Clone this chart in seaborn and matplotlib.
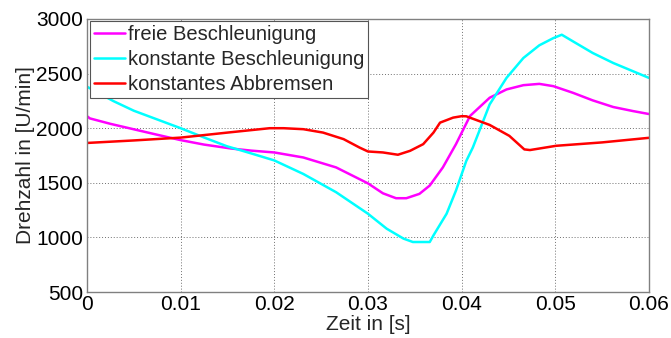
import numpy as np
import pandas as pd
import matplotlib
matplotlib.use("Agg")
import matplotlib.pyplot as plt
import seaborn as sns

# Drehzahlverläufe für drei Fahrmanöver
t_frei = [0.0, 0.0003, 0.0025, 0.005, 0.0075, 0.01, 0.0125, 0.0154, 0.0175, 0.02,
          0.0231, 0.0266, 0.030, 0.0316, 0.033, 0.0341, 0.0355, 0.0366, 0.038,
          0.0394, 0.0409, 0.043, 0.0448, 0.0466, 0.0483, 0.0498, 0.0519, 0.054,
          0.0562, 0.0583, 0.06]
n_frei = [2110, 2090, 2040, 1990, 1940, 1891, 1850, 1814, 1795, 1778,
          1732, 1641, 1495, 1404, 1359, 1359, 1399, 1475, 1641,
          1854, 2112, 2279, 2355, 2394, 2406, 2385, 2324, 2255,
          2194, 2157, 2130]

t_konst = [0.0, 0.0028, 0.005, 0.0075, 0.01, 0.0125, 0.0149, 0.0175, 0.02,
           0.0231, 0.0266, 0.030, 0.032, 0.0338, 0.0348, 0.0366, 0.037, 0.0384,
           0.0394, 0.0405, 0.0412, 0.043, 0.0448, 0.0466, 0.0483, 0.0498,
           0.0507, 0.0519, 0.054, 0.0562, 0.0583, 0.06]
n_konst = [2380, 2249, 2160, 2080, 2000, 1915, 1836, 1770, 1705,
           1581, 1414, 1217, 1080, 989, 958, 958, 1019, 1217,
           1429, 1700, 1823, 2218, 2461, 2643, 2759, 2825,
           2856, 2795, 2689, 2597, 2522, 2461]

t_brems = [0.0, 0.005, 0.01, 0.015, 0.0195, 0.021, 0.0231, 0.0252, 0.0274,
           0.0291, 0.030, 0.0316, 0.0332, 0.0345, 0.0359, 0.037, 0.0377,
           0.0391, 0.0400, 0.0405, 0.043, 0.0451, 0.0467, 0.0473, 0.0501,
           0.055, 0.06]
n_brems = [1865, 1888, 1914, 1960, 2000, 2000, 1991, 1960, 1900,
           1823, 1787, 1778, 1757, 1793, 1854, 1960, 2051,
           2097, 2110, 2109, 2030, 1930, 1806, 1800, 1839,
           1870, 1912]

labels = ["freie Beschleunigung", "konstante Beschleunigung", "konstantes Abbremsen"]
colors = ["#ff00ff", "#00ffff", "#ff0000"]

x_ticks = [0, 0.01, 0.02, 0.03, 0.04, 0.05, 0.06]
x_ticklabels = ["0", "0.01", "0.02", "0.03", "0.04", "0.05", "0.06"]
y_ticks = [500, 1000, 1500, 2000, 2500, 3000]

df = pd.concat([
    pd.DataFrame({"t": t_frei, "n": n_frei, "Fall": labels[0]}),
    pd.DataFrame({"t": t_konst, "n": n_konst, "Fall": labels[1]}),
    pd.DataFrame({"t": t_brems, "n": n_brems, "Fall": labels[2]}),
], ignore_index=True)

sns.set_style("white")
plt.rcParams["font.family"] = ["Liberation Sans", "DejaVu Sans"]

fig = plt.figure(figsize=(6.71, 3.38), dpi=100)
ax = fig.add_axes([0.1297, 0.136, 0.8373, 0.8078])

sns.lineplot(data=df, x="t", y="n", hue="Fall", hue_order=labels,
             palette=colors, sort=False, estimator=None, linewidth=1.8, ax=ax)

ax.set_xlim(0, 0.06)
ax.set_ylim(500, 3000)
ax.set_xticks(x_ticks)
ax.set_xticklabels(x_ticklabels)
ax.set_yticks(y_ticks)
ax.tick_params(axis="both", labelsize=15, length=0, colors="black")
ax.tick_params(axis="y", pad=3)
ax.tick_params(axis="x", pad=2)
ax.grid(True, linestyle=(0, (1, 2)), color="#707070", linewidth=0.7)
for s in ax.spines.values():
    s.set_color("#808080")
    s.set_linewidth(1.0)
ax.set_xlabel("Zeit in [s]", fontsize=15, labelpad=1)
ax.set_ylabel("Drehzahl in [U/min]", fontsize=15, labelpad=1)

leg = ax.legend(loc="upper left", bbox_to_anchor=(0.006, 0.993), fontsize=14.5,
                frameon=True, fancybox=False, framealpha=1, edgecolor="#555555",
                handlelength=1.5, handletextpad=0.15, borderpad=0.2,
                labelspacing=0.3, borderaxespad=0.0)
leg.get_frame().set_linewidth(0.8)
for line in leg.get_lines():
    line.set_linewidth(1.8)

fig.savefig("out.png", dpi=100)
